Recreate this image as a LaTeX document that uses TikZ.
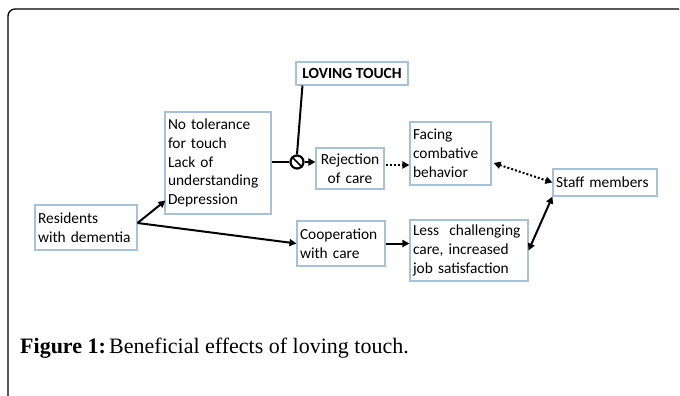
\documentclass[tikz,border=0pt]{standalone}
\usepackage{fontspec}
\setmainfont{Carlito}
\newfontfamily\capfont{Liberation Serif}
\usetikzlibrary{arrows.meta,calc}
\definecolor{boxblue}{HTML}{A9C0DA}
\tikzset{
  bx/.style={draw=boxblue, line width=1.1pt, inner xsep=3pt, inner ysep=0pt,
    font=\fontsize{15.4}{18.8}\selectfont, align=left, anchor=center},
  conn/.style={line width=2pt, -{Triangle[length=7pt,width=7pt]}},
  dconn/.style={line width=2pt, dotted, -{Triangle[length=7pt,width=7pt]}},
  ddconn/.style={line width=2pt, dotted, {Triangle[length=7pt,width=7pt]}-{Triangle[length=7pt,width=7pt]}},
  bconn/.style={line width=2pt, {Triangle[length=7pt,width=7pt]}-{Triangle[length=7pt,width=7pt]}},
}
\begin{document}
\begin{tikzpicture}[x=1pt,y=-1pt]
\useasboundingbox (0,0) rectangle (680,396);
\fill[white] (0,0) rectangle (680,396);
% frame
\draw[line width=1.3pt, rounded corners=7pt] (8,400) -- (8,9) -- (679,9);

% boxes
\node[bx, minimum width=102pt, minimum height=45pt, text width=96pt] (res) at (86,227.5) {Residents\\with dementia};
\node[bx, minimum width=106pt, minimum height=102pt, text width=100pt] (tol) at (218,163) {No tolerance\\for touch\\Lack of\\understanding\\Depression};
\node[bx, minimum width=112pt, minimum height=23pt, align=center, font=\fontsize{15.5}{17}\selectfont\bfseries] (love) at (352,73.5) {LOVING TOUCH};
\node[bx, minimum width=68pt, minimum height=41pt, text width=62pt, align=center] (rej) at (350,168.5) {Rejection\\of care};
\node[bx, minimum width=81pt, minimum height=63pt, text width=75pt] (face) at (450.5,153.5) {Facing\\combative\\behavior};
\node[bx, minimum width=104pt, minimum height=27pt, text width=98pt] (staff) at (605,182.5) {Staff members};
\node[bx, minimum width=88pt, minimum height=45pt, text width=82pt] (coop) at (341,243.5) {Cooperation\\with care};
\node[bx, minimum width=118pt, minimum height=61pt, text width=112pt] (less) at (469,250.5) {Less\ \ challenging\\care, increased\\job satisfaction};

% junction circle
\node[draw, circle, line width=2.2pt, minimum size=13pt, inner sep=0pt] (junc) at (297,162) {};
\draw[line width=1.6pt] (junc.north west) -- (junc.south east);

% connectors
\coordinate (resout) at ($(res.east)+(0,4.5pt)$);
\draw[conn] (resout) -- ($(tol.south west)+(1,14pt)$);
\draw[conn] (resout) -- (coop.west);
\draw[line width=2pt] ($(love.south west)+(7,0)$) -- (junc.north);
\draw[line width=2.2pt] (tol.east |- junc) -- (junc.west);
\draw[conn] (junc.east) -- (rej.west |- junc);
\draw[dconn] ($(rej.east)+(1,3.5pt)$) -- ($(rej.east -| face.west)+(0,3.5pt)$);
\draw[ddconn] ($(face.east)+(2,-9.5pt)$) -- (staff.west);
\draw[conn] (coop.east) -- (less.west |- coop.east);
\draw[bconn] (less.east) -- (staff.south west);

% caption
\node[anchor=base west, inner sep=0pt, font=\capfont\fontsize{22}{24}\selectfont] (cap) at (20,353) {\textbf{Figure 1:}\hspace{0.15em}Beneficial effects of loving touch.};
\end{tikzpicture}
\end{document}
